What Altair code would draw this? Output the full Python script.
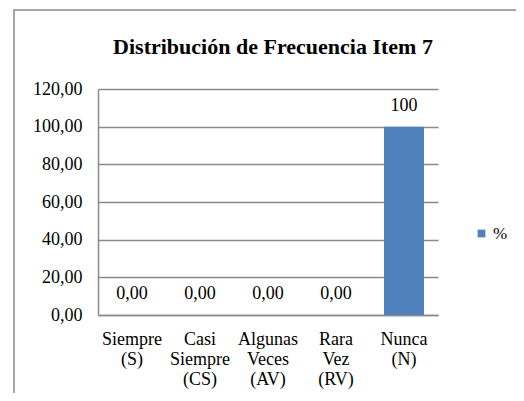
import altair as alt
import pandas as pd

categories = ["Siempre (S)", "Casi Siempre (CS)", "Algunas Veces (AV)", "Rara Vez (RV)", "Nunca (N)"]
values = [0, 0, 0, 0, 100]
value_labels = ["0,00", "0,00", "0,00", "0,00", "100"]
series_name = "%"
title_text = "Distribución de Frecuencia Item 7"
y_ticks = [0, 20, 40, 60, 80, 100, 120]

FONT = "Times New Roman, Liberation Serif, serif"
GRAY = "#8a8a8a"

df = pd.DataFrame({"cat": categories, "val": values, "lab": value_labels,
                   "serie": [series_name] * len(categories)})

x_enc = alt.X("cat:N", sort=categories, title=None,
              scale=alt.Scale(paddingInner=0.4118, paddingOuter=0.2059),
              axis=alt.Axis(labelAngle=0, labelExpr="split(datum.label, ' ')",
                            labelLineHeight=20, labelPadding=15, ticks=False,
                            domainColor=GRAY, domainWidth=1.5,
                            labelFont=FONT, labelFontSize=18, labelColor="#000"))
y_enc = alt.Y("val:Q", title=None,
              scale=alt.Scale(domain=[0, 120], nice=False),
              axis=alt.Axis(values=y_ticks, ticks=False, grid=True, labelOverlap=False,
                            gridColor=GRAY, gridWidth=1.5,
                            domainColor=GRAY, domainWidth=1.5,
                            labelExpr="replace(format(datum.value, '.2f'), '.', ',')",
                            labelPadding=16, labelFont=FONT, labelFontSize=18,
                            labelColor="#000"))

base = alt.Chart(df)

bars = base.mark_bar(color="#4F81BD").encode(
    x=x_enc, y=y_enc,
    color=alt.Color("serie:N", scale=alt.Scale(range=["#4F81BD"]),
                    legend=alt.Legend(title=None, orient="none", legendX=375, legendY=136,
                                      symbolType="square", symbolSize=60,
                                      symbolStrokeWidth=0, padding=0,
                                      labelFont=FONT, labelFontSize=17, labelColor="#000",
                                      labelOffset=3)))

labels = base.mark_text(baseline="alphabetic", dy=-16, font=FONT, fontSize=18,
                        color="#000").encode(
    x=x_enc, y=y_enc, text="lab:N")

frame = alt.Chart(pd.DataFrame({"a": [0]})).mark_rect(
    fill=None, stroke=GRAY, strokeWidth=1.5).encode(
    x=alt.value(-84), x2=alt.value(700), y=alt.value(-79), y2=alt.value(700))

title = alt.Chart(pd.DataFrame({"t": [title_text]})).mark_text(
    font=FONT, fontSize=22, fontWeight="bold", baseline="alphabetic",
    align="center", color="#000").encode(
    text="t:N", x=alt.value(175), y=alt.value(-35))

chart = alt.layer(frame, bars, labels, title).properties(
    width=340, height=226,
    autosize=alt.AutoSizeParams(type="none"),
    padding={"left": 90, "top": 81, "right": 78, "bottom": 78},
).configure_view(stroke=None)

chart.save("out.html", embed_options={"renderer": "svg", "actions": False})
